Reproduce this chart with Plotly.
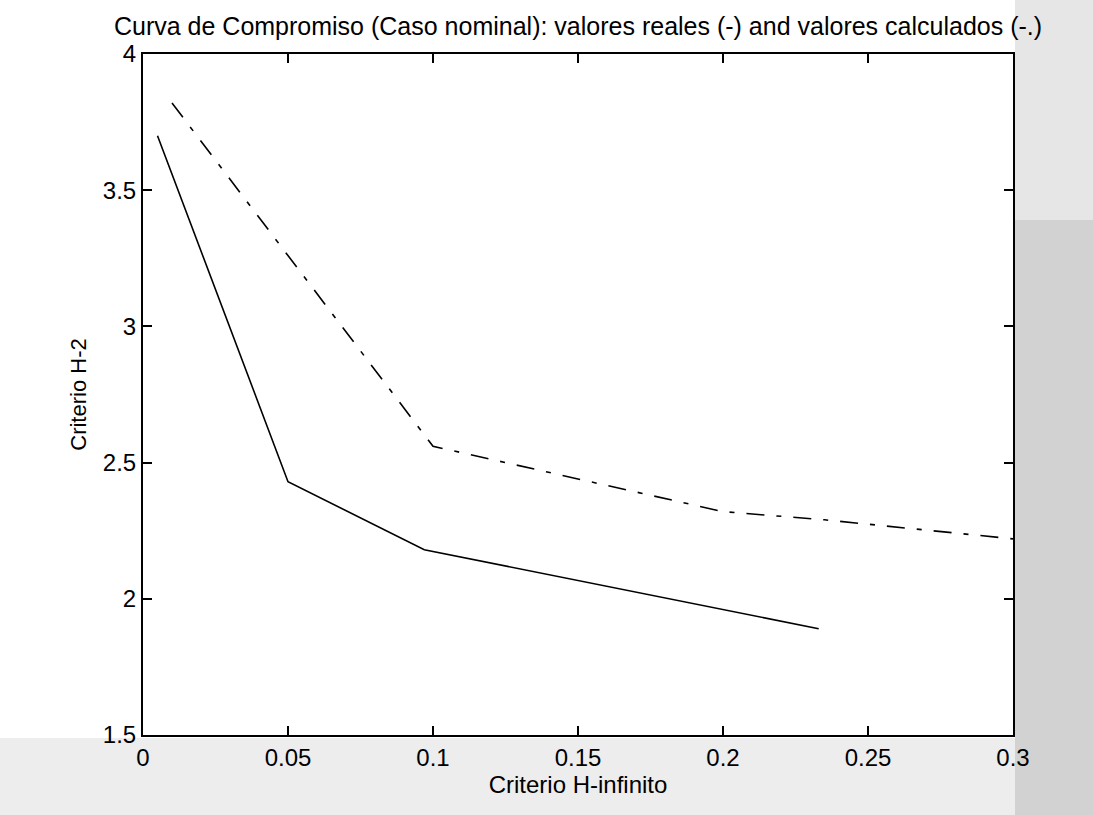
import plotly.graph_objects as go

# Trade-off curve: H-infinity criterion vs H-2 criterion
hinf_real = [0.005, 0.05, 0.097, 0.233]
h2_real = [3.70, 2.43, 2.18, 1.89]

hinf_calc = [0.01, 0.1, 0.2, 0.235, 0.3]
h2_calc = [3.82, 2.56, 2.32, 2.29, 2.22]

x_ticks = [0, 0.05, 0.1, 0.15, 0.2, 0.25, 0.3]
x_ticktext = ["0", "0.05", "0.1", "0.15", "0.2", "0.25", "0.3"]
y_ticks = [1.5, 2, 2.5, 3, 3.5, 4]
y_ticktext = ["1.5", "2", "2.5", "3", "3.5", "4"]

FONT = "Liberation Sans Narrow, Arial Narrow, Liberation Sans, Arial, sans-serif"

# plot area in pixels, used to place the grey paper bands
L, R, T, B = 143, 1013, 54, 735
W, H = 1093, 815


def px_x(p):
    return (p - L) / (R - L)


def px_y(p):
    return (B - p) / (B - T)


fig = go.Figure()
fig.add_trace(go.Scatter(
    x=hinf_real, y=h2_real, mode="lines",
    line=dict(color="black", width=1.6),
    name="valores reales",
))
fig.add_trace(go.Scatter(
    x=hinf_calc, y=h2_calc, mode="lines",
    line=dict(color="black", width=1.6, dash="18px,12px,5px,12px"),
    name="valores calculados",
))

# greyish scanned-paper tone around the axes
fig.add_shape(type="rect", xref="paper", yref="paper", layer="below",
              x0=px_x(0), x1=px_x(R + 2), y0=px_y(H), y1=px_y(B + 3),
              fillcolor="#ededed", line_width=0)
fig.add_shape(type="rect", xref="paper", yref="paper", layer="below",
              x0=px_x(R + 2), x1=px_x(W), y0=px_y(H), y1=px_y(220),
              fillcolor="#d2d2d2", line_width=0)
fig.add_shape(type="rect", xref="paper", yref="paper", layer="below",
              x0=px_x(R + 2), x1=px_x(W), y0=px_y(220), y1=px_y(0),
              fillcolor="#e6e6e6", line_width=0)

axis_common = dict(
    showline=True, linecolor="black", linewidth=2, mirror="allticks",
    ticks="inside", ticklen=9, tickwidth=2, tickcolor="black",
    showgrid=False, zeroline=False,
    tickfont=dict(family=FONT, size=24, color="black"),
)

fig.update_layout(
    width=W, height=H,
    margin=dict(l=L, r=W - R, t=T, b=H - B),
    paper_bgcolor="white", plot_bgcolor="white",
    showlegend=False,
    title=dict(
        text="Curva de Compromiso (Caso nominal): valores reales (-) and valores calculados (-.)",
        x=578 / W, xanchor="center", xref="container",
        y=1 - 26 / H, yanchor="middle", yref="container",
        font=dict(family=FONT, size=25, color="black"),
    ),
    xaxis=dict(
        range=[0, 0.3], tickvals=x_ticks, ticktext=x_ticktext,
        title=dict(text="Criterio H-infinito", standoff=4,
                   font=dict(family=FONT, size=24, color="black")),
        **axis_common,
    ),
    yaxis=dict(
        range=[1.5, 4], tickvals=y_ticks, ticktext=y_ticktext,
        title=dict(text="Criterio H-2", standoff=10,
                   font=dict(family=FONT, size=22, color="black")),
        **axis_common,
    ),
)

fig.write_html("out.html")
